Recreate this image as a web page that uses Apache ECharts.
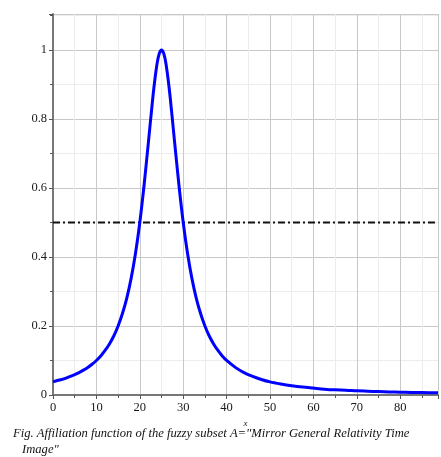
<!DOCTYPE html>
<html><head><meta charset="utf-8">
<script src="https://cdn.jsdelivr.net/npm/echarts@6/dist/echarts.min.js"></script>
<style>html,body{margin:0;padding:0;background:#fff;}#c{width:441px;height:457px;}</style>
</head><body><div id="c"></div>
<script>
// x positions of the sampled curve points
const xs = [0,1,2,3,4,5,6,7,8,9,10,11,12,13,14,15,16,17,18,19,20,21,22,23,23.5,24,24.5,25,25.5,26,26.5,27,28,29,30,31,32,33,34,35,36,37,38,39,40,42,44,46,48,50,52.5,55,57.5,60,62.5,65,67.5,70,72.5,75,77.5,80,82.5,85,88.7];
// membership values
const ys = [0.038,0.042,0.045,0.049,0.054,0.059,0.065,0.072,0.080,0.089,0.100,0.113,0.129,0.148,0.171,0.200,0.236,0.281,0.338,0.410,0.500,0.610,0.735,0.862,0.917,0.962,0.990,1.000,0.990,0.962,0.917,0.862,0.735,0.610,0.500,0.410,0.338,0.281,0.236,0.200,0.171,0.148,0.129,0.113,0.100,0.080,0.065,0.054,0.045,0.038,0.032,0.027,0.023,0.020,0.017,0.015,0.014,0.012,0.011,0.010,0.009,0.008,0.0075,0.007,0.0062];
// threshold line
const thresholdX = [0, 88.7];
const thresholdY = 0.5;
const xTicks = [0,10,20,30,40,50,60,70,80];
const yTicks = [0,0.2,0.4,0.6,0.8,1];
const caption1 = 'Fig. Affiliation function of the fuzzy subset A="Mirror General Relativity Time';
const caption2 = 'Image"';

const chart = echarts.init(document.getElementById('c'));
const serif = '"Liberation Serif","DejaVu Serif",serif';
chart.setOption({
  animation:false,
  grid:{left:53,right:0,top:14,bottom:62},
  xAxis:[{
    type:'value',min:0,max:88.7,interval:10,
    name:'x',nameLocation:'middle',nameGap:22,
    nameTextStyle:{fontFamily:serif,fontStyle:'italic',fontSize:9,color:'#222'},
    axisLine:{onZero:false,lineStyle:{color:'#555',width:1.5}},
    axisTick:{show:true,length:4,lineStyle:{color:'#555'}},
    minorTick:{show:true,splitNumber:2,length:3,lineStyle:{color:'#555'}},
    axisLabel:{fontFamily:serif,fontSize:12.5,color:'#1a1a1a',margin:6,
      formatter:v=>xTicks.includes(v)?String(v):''},
    splitLine:{show:true,lineStyle:{color:'#c8c8c8',width:1}},
    minorSplitLine:{show:true,lineStyle:{color:'#ececec',width:1}}
  },{
    type:'value',position:'top',min:0,max:88.7,
    axisLine:{show:true,lineStyle:{color:'#777',width:2}},
    axisTick:{show:false},axisLabel:{show:false},splitLine:{show:false}
  }],
  yAxis:{
    type:'value',min:0,max:1.104,interval:0.2,
    axisLine:{show:true,lineStyle:{color:'#777',width:2}},
    axisTick:{show:true,length:4,lineStyle:{color:'#555'}},
    minorTick:{show:true,splitNumber:2,length:3,lineStyle:{color:'#555'}},
    axisLabel:{fontFamily:serif,fontSize:12.5,color:'#1a1a1a',margin:6,
      formatter:v=>{const t=yTicks.find(k=>Math.abs(k-v)<1e-6);return t===undefined?'':String(t);}},
    splitLine:{show:true,lineStyle:{color:'#c8c8c8',width:1}},
    minorSplitLine:{show:true,lineStyle:{color:'#ececec',width:1}}
  },
  series:[{
    type:'line',data:thresholdX.map(x=>[x,thresholdY]),symbol:'none',
    lineStyle:{color:'#111',width:2,type:[7,3,2,3]}
  },{
    type:'line',data:xs.map((x,i)=>[x,ys[i]]),symbol:'none',smooth:0.3,
    lineStyle:{color:'#0000ff',width:3}
  }],
  graphic:[
    {type:'text',left:13,top:427,style:{text:caption1,font:'italic 12.6px '+serif,fill:'#111'}},
    {type:'text',left:22,top:443,style:{text:caption2,font:'italic 12.6px '+serif,fill:'#111'}}
  ]
});
</script></body></html>
